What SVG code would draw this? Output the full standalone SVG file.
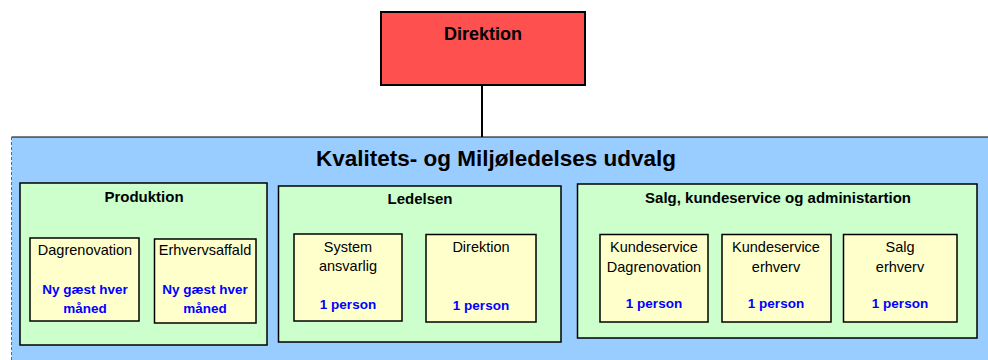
<svg xmlns="http://www.w3.org/2000/svg" width="988" height="360" viewBox="0 0 988 360">
<style>
text{font-family:"Liberation Sans",Arial,sans-serif;text-anchor:middle}
.h{font-weight:bold;fill:#000}
.n{font-size:14.5px;fill:#000}
.b{font-weight:bold;font-size:13.5px;fill:#0000ff}
.grp{fill:#ccffcc;stroke:#000;stroke-width:1.5}
.box{fill:#ffffcc;stroke:#000;stroke-width:1.5}
</style>
<rect width="988" height="360" fill="#fff"/>
<g id="panel">
<rect x="11.5" y="137" width="977" height="224" fill="#99ccff"/>
<line x1="11.5" y1="137" x2="988" y2="137" stroke="#000" stroke-width="1.2"/>
<line x1="11.5" y1="137" x2="11.5" y2="360" stroke="#666" stroke-width="1" stroke-dasharray="3,2"/>
<text class="h" x="496" y="166" font-size="22.5">Kvalitets- og Miljøledelses udvalg</text>
</g>
<g id="connectors">
<line x1="482" y1="85" x2="482" y2="137" stroke="#000" stroke-width="2"/>
</g>
<g id="direktion-top">
<rect x="381" y="12" width="204" height="73" fill="#ff5050" stroke="#000" stroke-width="2"/>
<text class="h" x="483" y="40" font-size="18">Direktion</text>
</g>
<g id="produktion">
<rect class="grp" x="20" y="183" width="247" height="162"/>
<text class="h" x="144" y="202" font-size="15">Produktion</text>
</g>
<g id="dagrenovation">
<rect class="box" x="30" y="238" width="109" height="83"/>
<text class="n" x="85" y="255">Dagrenovation</text>
<text class="b" x="85" y="294">Ny gæst hver</text>
<text class="b" x="85" y="313">måned</text>
</g>
<g id="erhvervsaffald">
<rect class="box" x="154.5" y="239" width="101.5" height="84"/>
<text class="n" x="205" y="255">Erhvervsaffald</text>
<text class="b" x="205" y="294">Ny gæst hver</text>
<text class="b" x="205" y="313">måned</text>
</g>
<g id="ledelsen">
<rect class="grp" x="278.5" y="186" width="282.5" height="156"/>
<text class="h" x="420" y="204" font-size="15">Ledelsen</text>
</g>
<g id="system">
<rect class="box" x="294" y="234" width="108" height="87"/>
<text class="n" x="348" y="252">System</text>
<text class="n" x="348" y="271">ansvarlig</text>
<text class="b" x="348" y="309">1 person</text>
</g>
<g id="direktion-inner">
<rect class="box" x="426" y="234.5" width="110" height="87.5"/>
<text class="n" x="481" y="252">Direktion</text>
<text class="b" x="481" y="310">1 person</text>
</g>
<g id="salg">
<rect class="grp" x="577.5" y="184" width="399.5" height="154"/>
<text class="h" x="778" y="203" font-size="15">Salg, kundeservice og administartion</text>
</g>
<g id="kunde-dagrenovation">
<rect class="box" x="600" y="234.5" width="108" height="87.5"/>
<text class="n" x="654" y="252">Kundeservice</text>
<text class="n" x="654" y="272">Dagrenovation</text>
<text class="b" x="654" y="308">1 person</text>
</g>
<g id="kunde-erhverv">
<rect class="box" x="722" y="234.5" width="109" height="87.5"/>
<text class="n" x="776" y="252">Kundeservice</text>
<text class="n" x="776" y="272">erhverv</text>
<text class="b" x="776" y="308">1 person</text>
</g>
<g id="salg-erhverv">
<rect class="box" x="843.5" y="234.5" width="113.5" height="87.5"/>
<text class="n" x="900" y="252">Salg</text>
<text class="n" x="900" y="272">erhverv</text>
<text class="b" x="900" y="308">1 person</text>
</g>
</svg>
